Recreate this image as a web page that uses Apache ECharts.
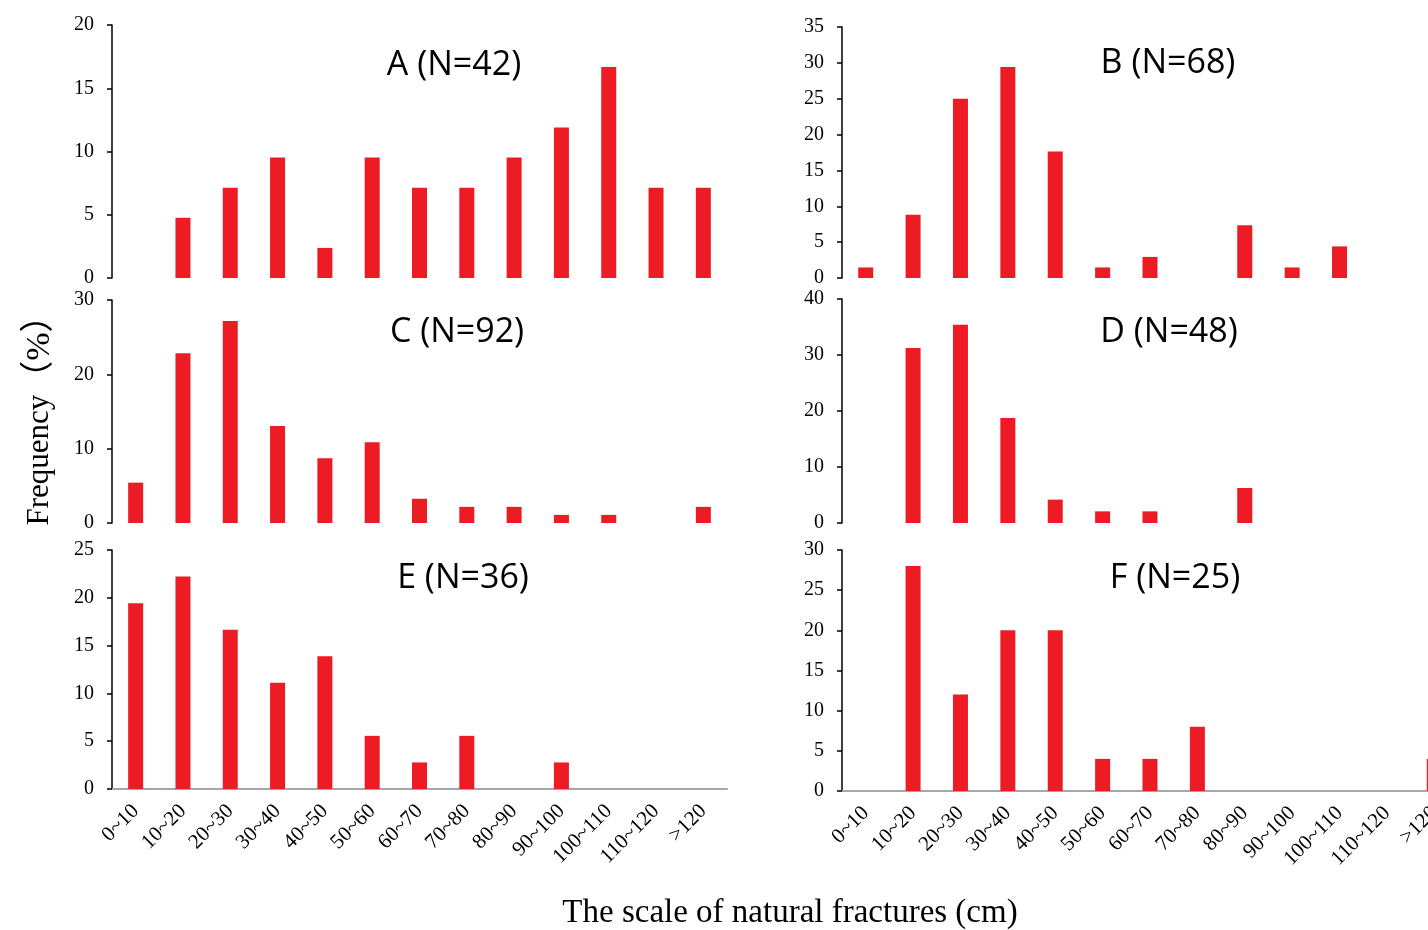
<!DOCTYPE html>
<html>
<head>
<meta charset="utf-8">
<script src="https://cdn.jsdelivr.net/npm/echarts@6/dist/echarts.min.js"></script>
<style>
  html, body { margin: 0; padding: 0; background: #fff; }
  #main { width: 1428px; height: 930px; }
</style>
</head>
<body>
<div id="main"></div>
<script>
// 尺度分组
var categories = ['0~10', '10~20', '20~30', '30~40', '40~50', '50~60', '60~70',
  '70~80', '80~90', '90~100', '100~110', '110~120', '>120'];

// 各分区频率 (%)
var valuesA = [0, 4.76, 7.14, 9.52, 2.38, 9.52, 7.14, 7.14, 9.52, 11.9, 16.67, 7.14, 7.14];
var valuesB = [1.47, 8.82, 25, 29.41, 17.65, 1.47, 2.94, 0, 7.35, 1.47, 4.41, 0, 0];
var valuesC = [5.43, 22.83, 27.17, 13.04, 8.7, 10.87, 3.26, 2.17, 2.17, 1.09, 1.09, 0, 2.17];
var valuesD = [0, 31.25, 35.42, 18.75, 4.17, 2.08, 2.08, 0, 6.25, 0, 0, 0, 0];
var valuesE = [19.44, 22.22, 16.67, 11.11, 13.89, 5.56, 2.78, 5.56, 0, 2.78, 0, 0, 0];
var valuesF = [0, 28, 12, 20, 20, 4, 4, 8, 0, 0, 0, 0, 4];

var panelTitles = ['A (N=42)', 'B (N=68)', 'C (N=92)', 'D (N=48)', 'E (N=36)', 'F (N=25)'];
var yMax = [20, 35, 30, 40, 25, 30];
var yStep = [5, 5, 10, 10, 5, 5];

var allValues = [valuesA, valuesB, valuesC, valuesD, valuesE, valuesF];

// 版面位置 (px)，右列超出画布
var grids = [
  { left: 112, top: 25,  width: 615, height: 253 },
  { left: 842, top: 27,  width: 616, height: 251 },
  { left: 112, top: 300, width: 615, height: 223 },
  { left: 842, top: 299, width: 616, height: 224 },
  { left: 112, top: 550, width: 615, height: 239 },
  { left: 842, top: 550, width: 616, height: 241 }
];
grids.forEach(function (g) {
  g.containLabel = false;
  g.outerBoundsMode = 'none';
});
var titlePos = [[454, 65], [1168, 63], [457, 332], [1169, 332], [463, 578], [1175, 578]];

var serif = '"Liberation Serif", "Times New Roman", "Noto Sans CJK SC", serif';

var myChart = echarts.init(document.getElementById('main'));

var xAxes = [], yAxes = [], series = [], graphics = [];
for (var i = 0; i < 6; i++) {
  var bottomRow = i >= 4;
  xAxes.push({
    type: 'category',
    gridIndex: i,
    data: categories,
    axisLine: { show: bottomRow, lineStyle: { color: '#a6a6a6', width: 2 } },
    axisTick: { show: false },
    axisLabel: {
      show: bottomRow,
      interval: 0,
      rotate: 45,
      margin: 19,
      color: '#000',
      fontFamily: serif,
      fontSize: 21
    }
  });
  yAxes.push({
    type: 'value',
    gridIndex: i,
    min: 0,
    max: yMax[i],
    interval: yStep[i],
    splitLine: { show: false },
    axisLine: { show: true, lineStyle: { color: '#000', width: 1.5 } },
    axisTick: { show: true, length: 5, lineStyle: { color: '#000', width: 1.5 } },
    axisLabel: { color: '#000', fontFamily: serif, fontSize: 20, margin: 18 }
  });
  series.push({
    type: 'bar',
    xAxisIndex: i,
    yAxisIndex: i,
    barWidth: 15,
    itemStyle: { color: '#ed1c24' },
    data: allValues[i]
  });
  graphics.push({
    type: 'text',
    x: titlePos[i][0],
    y: titlePos[i][1],
    style: {
      text: panelTitles[i],
      fill: '#000',
      font: '34px "Open Sans", sans-serif',
      textAlign: 'center',
      textVerticalAlign: 'middle'
    }
  });
}

graphics.push({
  type: 'text',
  x: 40,
  y: 412,
  rotation: Math.PI / 2,
  style: {
    text: '{a|Frequency}{b|（%）}',
    fill: '#000',
    textAlign: 'center',
    textVerticalAlign: 'middle',
    rich: {
      a: { fontFamily: serif, fontSize: 31, fill: '#000' },
      b: { fontFamily: serif, fontSize: 34, fill: '#000' }
    }
  }
});
graphics.push({
  type: 'text',
  x: 790,
  y: 913,
  style: {
    text: 'The scale of natural fractures (cm)',
    fill: '#000',
    font: '33px ' + serif,
    textAlign: 'center',
    textVerticalAlign: 'middle'
  }
});

myChart.setOption({
  animation: false,
  backgroundColor: '#fff',
  grid: grids,
  xAxis: xAxes,
  yAxis: yAxes,
  series: series,
  graphic: graphics
});
</script>
</body>
</html>
